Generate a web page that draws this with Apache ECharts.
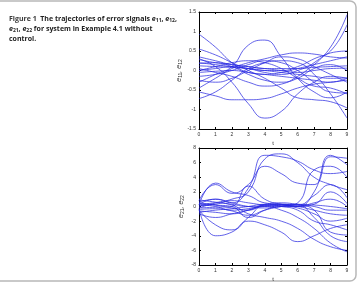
<!DOCTYPE html>
<html>
<head>
<meta charset="utf-8">
<script src="https://cdn.jsdelivr.net/npm/echarts@6/dist/echarts.min.js"></script>
<style>
html, body { margin: 0; padding: 0; background: #fff; }
#main { width: 360px; height: 283px; }
</style>
</head>
<body>
<div id="main"></div>
<script>
var myChart = echarts.init(document.getElementById('main'));

// time samples
var t = [0, 1, 2, 3, 4, 5, 6, 7, 8, 9];

// e11, e12 trajectories
var e1 = [
    [0.93, 0.6, 0.2, -0.05, -0.1, -0.15, -0.2, -0.25, -0.3, -0.2],
    [-0.3, -0.1, 0.1, 0.65, 0.78, 0.35, -0.2, -0.55, -0.7, -0.55],
    [0.3, 0.1, -0.3, -0.85, -1.22, -1.05, -0.6, -0.3, -0.15, -0.2],
    [0.0, 0.05, 0.1, 0.05, -0.05, -0.1, 0.0, 0.2, 0.6, 1.43],
    [0.2, 0.15, 0.1, 0.05, 0.0, 0.0, 0.1, 0.3, 0.5, 1.17],
    [-0.72, -0.55, -0.25, 0.05, 0.2, 0.25, 0.2, -0.1, -0.6, -1.22],
    [-0.55, -0.65, -0.75, -0.75, -0.72, -0.6, -0.45, -0.35, -0.3, -0.25],
    [-0.45, -0.2, 0.05, 0.2, 0.3, 0.4, 0.45, 0.42, 0.35, 0.32],
    [0.55, 0.4, 0.2, 0.0, -0.2, -0.45, -0.7, -0.75, -0.8, -0.96],
    [0.35, 0.25, 0.15, 0.1, 0.05, 0.05, 0.05, 0.08, 0.1, 0.12],
    [0.12, 0.1, 0.08, 0.05, 0.0, -0.05, -0.1, -0.15, -0.2, -0.19],
    [-0.15, -0.1, 0.0, 0.15, 0.25, 0.2, 0.0, -0.3, -0.55, -0.58],
    [0.28, 0.2, 0.15, 0.1, 0.05, 0.0, -0.05, 0.0, 0.05, 0.06],
    [0.05, -0.05, -0.15, -0.3, -0.4, -0.35, -0.15, 0.15, 0.45, 0.5],
    [-0.25, -0.3, -0.2, 0.0, 0.2, 0.35, 0.3, 0.1, -0.1, -0.3],
    [0.0, 0.1, 0.2, 0.25, 0.2, 0.05, -0.2, -0.4, -0.45, -0.6],
    [-0.05, -0.02, 0.0, -0.05, -0.1, -0.05, 0.05, 0.15, 0.25, 0.35],
    [0.18, 0.2, 0.1, -0.1, -0.25, -0.3, -0.2, 0.05, 0.15, 0.0]
];

// e21, e22 trajectories
var e2 = [
    [0.3, 1.0, 0.5, 2.5, 7.0, 6.8, 6.2, 5.0, 4.5, 4.8],
    [-0.2, 0.5, 1.0, 2.0, 6.5, 7.2, 6.0, 4.0, 3.0, 2.3],
    [0.8, 3.0, 1.8, 3.0, 5.5, 4.5, 3.2, 3.0, 6.8, 6.6],
    [0.2, 3.2, 2.0, 1.5, 0.5, 0.3, 0.0, 2.0, 7.0, 5.7],
    [-0.5, -2.5, -3.2, -1.5, 0.2, 0.3, 0.2, -0.5, -3.5, -3.9],
    [-0.3, -4.0, -3.5, -2.0, -2.5, -3.5, -4.8, -4.0, -3.0, -2.5],
    [0.0, 0.5, 0.2, -1.0, -1.5, -2.0, -3.0, -4.5, -5.5, -6.0],
    [0.5, 0.2, -0.2, -0.5, 0.3, 0.5, 0.3, 0.0, -0.5, -0.5],
    [-0.8, -0.5, -0.3, 0.0, 0.3, 0.2, 0.0, -0.5, -1.0, -1.2],
    [0.9, 0.6, 0.3, 0.0, 0.1, 0.3, 0.2, 1.5, 3.0, 1.2],
    [-0.4, -0.3, -0.6, -1.2, -0.5, 0.0, 0.2, -1.5, -4.0, -4.8],
    [0.3, 0.0, -0.5, -0.3, 0.0, 0.0, 0.0, 0.5, 1.0, 0.0],
    [-0.6, -0.8, -1.0, -0.5, 0.2, 0.0, -0.5, -2.0, -2.5, -3.2],
    [0.6, 1.0, 0.5, 0.0, -0.2, 0.0, 0.5, 5.0, 5.5, 4.0],
    [-0.2, -0.1, 0.0, 2.8, 1.0, 0.3, 0.0, 0.3, 2.0, 0.4],
    [0.1, 0.3, 0.8, 0.5, 0.2, 0.1, -0.2, -1.0, -2.0, -1.6],
    [-1.0, -1.5, -1.0, -0.5, 0.0, -0.5, -1.5, -3.0, -5.0, -6.2],
    [0.4, 0.2, 0.0, -1.5, -0.5, 0.2, 0.3, 0.2, 0.0, -0.3]
];

var labelStyle = {fontSize: 5, color: '#333', fontFamily: 'Liberation Sans', margin: 3};
var subRich = {
    i: {fontSize: 7, fontStyle: 'italic', color: '#333', fontFamily: 'Liberation Sans'},
    s: {fontSize: 5, color: '#333', fontFamily: 'Liberation Sans', verticalAlign: 'bottom', padding: [3, 0, 0, 0]}
};
var lineStyle = {onZero: false, lineStyle: {color: '#000', width: 1}};
var tickStyle = {inside: true, length: 2, lineStyle: {color: '#000'}};

function xAxes(gi) {
    return [{
        type: 'value', gridIndex: gi, min: 0, max: 9, interval: 1,
        name: 't', nameLocation: 'middle', nameGap: 11,
        nameTextStyle: {fontSize: 6, color: '#333', fontFamily: 'Liberation Sans'},
        axisLine: lineStyle,
        axisTick: tickStyle,
        axisLabel: labelStyle,
        splitLine: {show: false}
    }, {
        type: 'value', gridIndex: gi, min: 0, max: 9, interval: 1, position: 'top',
        axisLine: lineStyle,
        axisTick: tickStyle,
        axisLabel: {show: false},
        splitLine: {show: false}
    }];
}

function yAxes(gi, min, max, step, name) {
    return [{
        type: 'value', gridIndex: gi, min: min, max: max, interval: step,
        name: name, nameLocation: 'middle', nameGap: 14, nameRotate: 90,
        nameTextStyle: {rich: subRich},
        axisLine: lineStyle,
        axisTick: tickStyle,
        axisLabel: labelStyle,
        splitLine: {show: false}
    }, {
        type: 'value', gridIndex: gi, min: min, max: max, interval: step, position: 'right',
        axisLine: lineStyle,
        axisTick: tickStyle,
        axisLabel: {show: false},
        splitLine: {show: false}
    }];
}

function makeSeries(list, axisIdx) {
    return list.map(function (vals) {
        return {
            type: 'line',
            xAxisIndex: axisIdx,
            yAxisIndex: axisIdx,
            smooth: 0.5,
            symbol: 'none',
            silent: true,
            lineStyle: {color: '#2626e0', width: 0.8, opacity: 0.9},
            data: vals.map(function (v, k) { return [t[k], v]; })
        };
    });
}

option = {
    animation: false,
    backgroundColor: '#fff',
    title: {
        left: 4,
        top: 9,
        text: '{b|Figure 1  }{n|The trajectories of error signals }{i|e}{s|11}{n|, }{i|e}{s|12}{n|,}\n'
            + '{i|e}{s|21}{n|, }{i|e}{s|22}{n| for system in Example 4.1 without}\n{n|control.}',
        textStyle: {
            fontSize: 7,
            lineHeight: 10,
            rich: {
                b: {fontSize: 7, fontWeight: 'bold', color: '#3a3a3a', fontFamily: 'Open Sans', lineHeight: 10},
                n: {fontSize: 7, fontWeight: 'bold', color: '#222', fontFamily: 'Open Sans', lineHeight: 10},
                i: {fontSize: 7, fontWeight: 'bold', fontStyle: 'italic', color: '#222', fontFamily: 'Open Sans', lineHeight: 10},
                s: {fontSize: 5, fontWeight: 'bold', color: '#222', fontFamily: 'Open Sans', lineHeight: 10, padding: [3, 0, 0, 0]}
            }
        }
    },
    graphic: [{
        type: 'rect',
        shape: {x: -6, y: 1, width: 362, height: 280, r: 6},
        style: {fill: 'none', stroke: '#b8b8b8', lineWidth: 1.5},
        silent: true
    }],
    grid: [
        {left: 199, top: 12, width: 148, height: 117},
        {left: 199, top: 148, width: 148, height: 118}
    ],
    xAxis: xAxes(0).concat(xAxes(1)),
    yAxis: yAxes(0, -1.5, 1.5, 0.5, '{i|e}{s|11}{i|, e}{s|12}')
        .concat(yAxes(1, -8, 8, 2, '{i|e}{s|21}{i|, e}{s|22}')),
    series: makeSeries(e1, 0).concat(makeSeries(e2, 2))
};

myChart.setOption(option);
</script>
</body>
</html>
